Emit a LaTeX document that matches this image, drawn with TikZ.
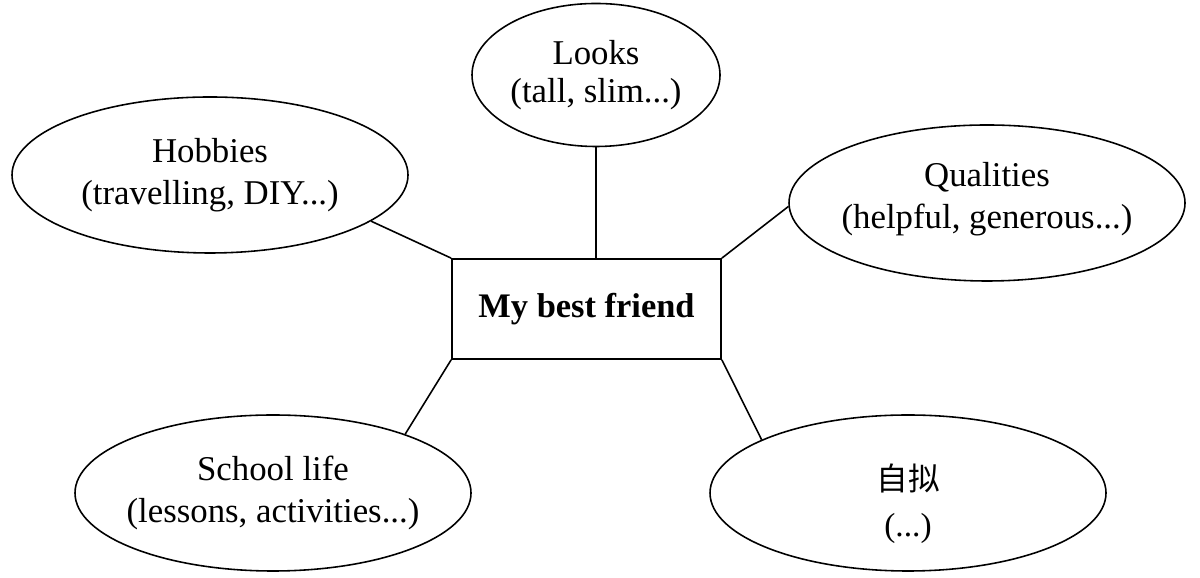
\documentclass[tikz,border=0pt]{standalone}
\usepackage{fontspec}
\setmainfont{Liberation Serif}
\newfontfamily\cjk{Noto Sans CJK SC}
\usetikzlibrary{shapes.geometric}
\tikzset{
  topic/.style={draw,ellipse,line width=0.9pt,inner sep=0pt,minimum width=7.92cm,minimum height=3.12cm},
  tag/.style={align=center,inner sep=0pt,font=\fontsize{19.8}{24}\selectfont},
  centre/.style={draw,rectangle,line width=1pt,minimum width=5.38cm,minimum height=2cm,font=\fontsize{19.6}{23}\selectfont\bfseries},
  link/.style={line width=0.9pt}
}
\begin{document}
\begin{tikzpicture}
\useasboundingbox (0,0) rectangle (24,11.56);
\node[centre] (friend) at (11.73,5.38) {My best friend};
\node[topic,minimum width=4.96cm,minimum height=2.86cm] (looks) at (11.92,10.06) {};
\node[tag,font=\fontsize{19.8}{22}\selectfont] (lookstext) at (looks) {Looks\\(tall, slim...)};
\node[topic] (hobbies) at (4.2,8.06) {};
\node[tag] (hobbiestext) at (hobbies) {Hobbies\\(travelling, DIY...)};
\node[topic] (qualities) at (19.74,7.5) {};
\node[tag] (qualitiestext) at ([yshift=0.08cm]qualities.center) {Qualities\\(helpful, generous...)};
\node[topic] (school) at (5.46,1.7) {};
\node[tag] (schooltext) at (school) {School life\\(lessons, activities...)};
\node[topic] (own) at (18.16,1.7) {};
\node[tag,font=\fontsize{19}{26}\selectfont] (owntext) at ([yshift=-0.22cm]own.center) {{\cjk\fontsize{18}{26}\selectfont 自拟}\\(...)};
\draw[link] (looks.south) -- (looks.south |- friend.north);
\draw[link] (hobbies.-16) -- (friend.north west);
\draw[link] (qualities.181) -- (friend.north east);
\draw[link] (school.24) -- (friend.south west);
\draw[link] (own.160) -- (friend.south east);
\end{tikzpicture}
\end{document}
